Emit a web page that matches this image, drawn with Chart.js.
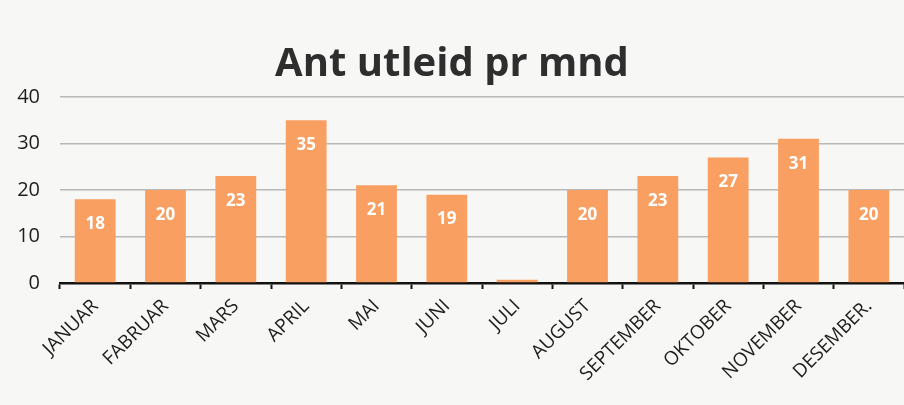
<!DOCTYPE html>
<html>
<head>
<meta charset="utf-8">
<script src="https://cdn.jsdelivr.net/npm/chart.js@4/dist/chart.umd.min.js"></script>
<style>
  html, body { margin: 0; padding: 0; background: #f7f7f6; }
  #wrap { width: 904px; height: 405px; }
</style>
</head>
<body>
<div id="wrap"><canvas id="c" width="904" height="405"></canvas></div>
<script>
const categories = ["JANUAR", "FABRUAR", "MARS", "APRIL", "MAI", "JUNI", "JULI", "AUGUST", "SEPTEMBER", "OKTOBER", "NOVEMBER", "DESEMBER."];
const values = [18, 20, 23, 35, 21, 19, 0.7, 20, 23, 27, 31, 20];
const yTicks = [0, 10, 20, 30, 40];
const titleText = "Ant utleid pr mnd";

const labelPlugin = {
  id: 'barLabels',
  afterDatasetsDraw(chart) {
    const ctx = chart.ctx;
    const meta = chart.getDatasetMeta(0);
    ctx.save();
    ctx.fillStyle = '#ffffff';
    ctx.font = 'bold 17px "Open Sans"';
    ctx.textAlign = 'center';
    ctx.textBaseline = 'middle';
    meta.data.forEach((el, i) => {
      const v = values[i];
      if (v >= 5) ctx.fillText(String(v), el.x, el.y + 25);
    });
    ctx.restore();
  }
};

new Chart(document.getElementById('c'), {
  type: 'bar',
  data: {
    labels: categories,
    datasets: [{
      data: values,
      backgroundColor: '#f99f62',
      borderWidth: 0,
      categoryPercentage: 1.0,
      barPercentage: 0.58
    }]
  },
  options: {
    responsive: false,
    animation: false,
    layout: { padding: { left: 0, right: 0, top: 0, bottom: 0 } },
    plugins: {
      legend: { display: false },
      tooltip: { enabled: false },
      title: {
        display: true,
        text: titleText,
        color: '#2e2e2e',
        font: { family: '"Open Sans"', size: 40, weight: 'bold', lineHeight: 1.2 },
        padding: { top: 41, bottom: 8 }
      }
    },
    scales: {
      x: {
        grid: {
          display: true,
          drawOnChartArea: false,
          drawTicks: true,
          tickLength: 6,
          tickColor: '#111',
          tickWidth: 2,
          offset: true
        },
        border: { display: true, color: '#111', width: 2.5 },
        ticks: {
          color: '#1e1e1e',
          font: { family: '"Open Sans"', size: 19 },
          minRotation: 45,
          maxRotation: 45,
          padding: 6,
          autoSkip: false
        },
        afterFit(scale) { scale.height = 122; }
      },
      y: {
        min: 0,
        max: 40,
        afterBuildTicks(scale) { scale.ticks = yTicks.map(v => ({ value: v })); },
        grid: {
          color: (c) => c.tick && c.tick.value === 0 ? 'rgba(0,0,0,0)' : '#b8b8b8',
          lineWidth: 1.5,
          drawTicks: false
        },
        border: { display: false },
        ticks: {
          color: '#1e1e1e',
          font: { family: '"Open Sans"', size: 20 },
          padding: 20
        },
        afterFit(scale) { scale.width = 60; }
      }
    }
  },
  plugins: [labelPlugin]
});
</script>
</body>
</html>
